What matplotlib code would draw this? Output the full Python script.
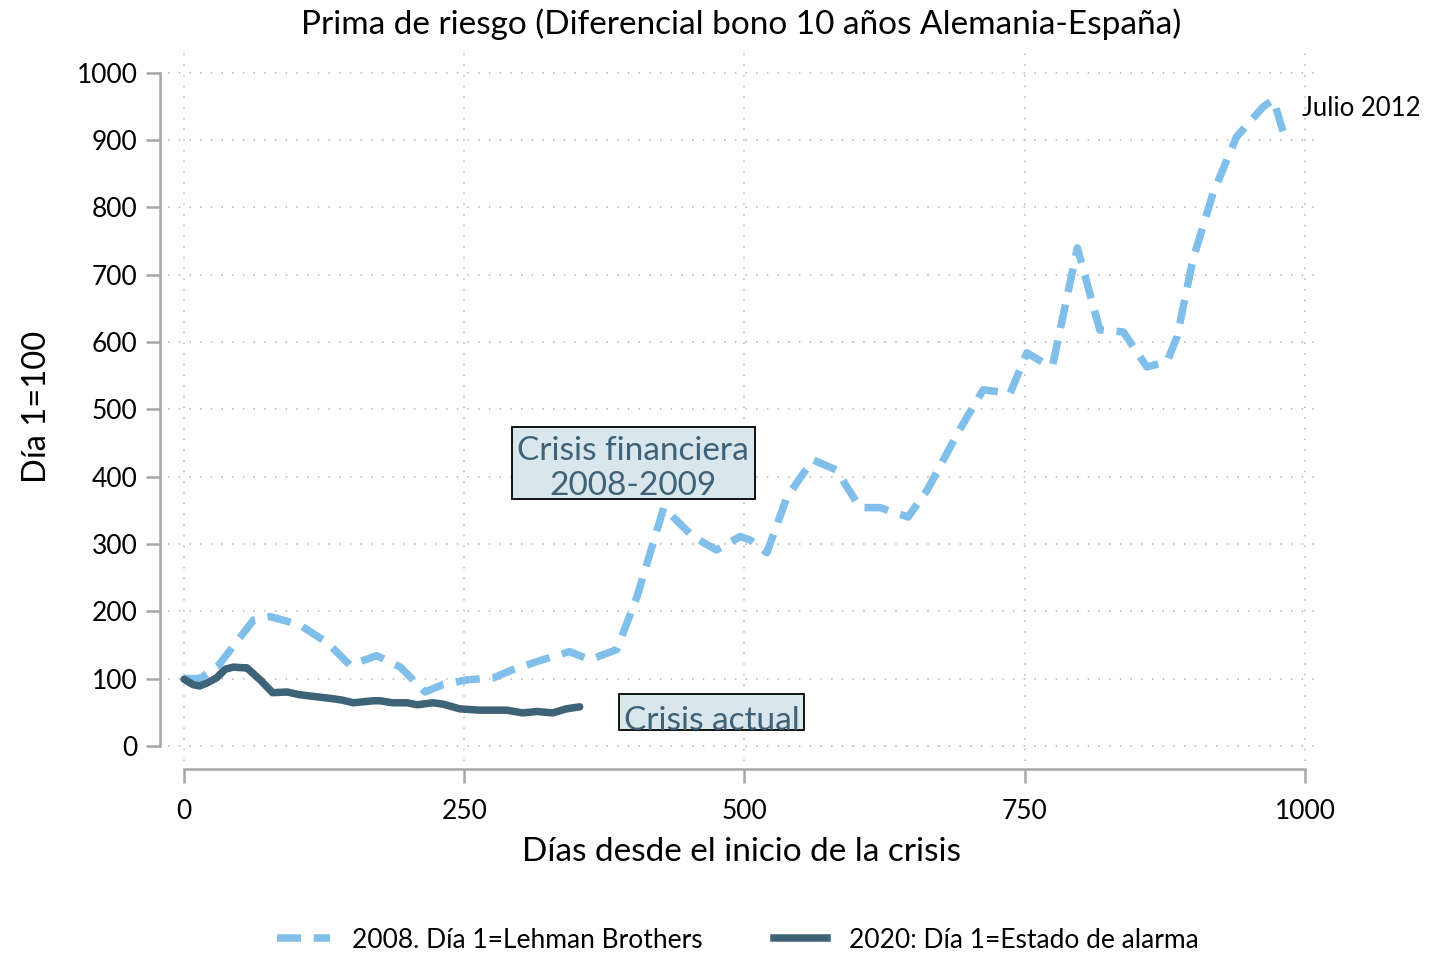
import matplotlib
matplotlib.use("Agg")
import matplotlib.pyplot as plt
from matplotlib.patches import Rectangle
from matplotlib.lines import Line2D

plt.rcParams['font.family'] = ['Lato', 'DejaVu Sans']

# 2008 series (Día 1 = Lehman Brothers)
x2008 = [0, 14, 30, 62, 77, 103, 128, 148, 172, 193, 215, 231, 252, 276, 293,
         320, 344, 362, 386, 404, 428, 454, 475, 496, 505, 520, 538, 561, 582,
         603, 621, 646, 663, 692, 713, 737, 752, 770, 775, 797, 817, 838, 859,
         877, 886, 900, 918, 939, 963, 972, 981]
y2008 = [100, 100, 118, 187, 192, 180, 153, 120, 134, 117, 80, 91, 98, 101, 113,
         128, 140, 128, 143, 221, 354, 311, 291, 311, 306, 287, 370, 425, 410,
         354, 354, 340, 380, 470, 529, 524, 584, 566, 566, 740, 618, 615, 563,
         571, 608, 722, 821, 905, 950, 960, 910]

# 2020 series (Día 1 = Estado de alarma)
x2020 = [0, 8, 14, 20, 29, 37, 44, 53, 56, 68, 79, 92, 103, 118, 133, 141, 151,
         169, 175, 186, 199, 208, 222, 231, 246, 264, 288, 302, 315, 329, 341, 353]
y2020 = [99, 91, 89, 93, 101, 114, 117, 116, 116, 98, 79, 80, 76, 73, 70, 68, 64,
         67, 67, 64, 64, 61, 64, 62, 55, 53, 53, 49, 51, 49, 55, 58]

x_ticks = [0, 250, 500, 750, 1000]
y_ticks = list(range(0, 1001, 100))

title = "Prima de riesgo (Diferencial bono 10 años Alemania-España)"
xlabel = "Días desde el inicio de la crisis"
ylabel = "Día 1=100"
label2008 = "2008. Día 1=Lehman Brothers"
label2020 = "2020: Día 1=Estado de alarma"

c_light = '#7fbfea'
c_dark = '#3e6278'
c_box = '#d9e6ec'
c_grid = '#b4b4b4'
c_spine = '#a6a6a6'

W, H = 1441, 955
fig = plt.figure(figsize=(W / 100, H / 100), dpi=100)
ax = fig.add_axes([168 / W, 1 - 761 / H, (1315 - 168) / W, (761 - 52) / H])

ax.set_xlim(-14.3, 1009)
ax.set_ylim(-22.5, 1031)

for t in y_ticks:
    ax.axhline(t, color=c_grid, lw=1.1, ls=(0, (1, 6)), zorder=0)
for t in x_ticks:
    ax.axvline(t, color=c_grid, lw=1.1, ls=(0, (1, 6)), zorder=0)

ax.plot(x2008, y2008, color=c_light, lw=5.4, ls=(0, (3.2, 1.7)),
        dash_capstyle='butt', zorder=3)
ax.plot(x2020, y2020, color=c_dark, lw=5.4, solid_capstyle='round',
        solid_joinstyle='round', zorder=4)

ax.text(997, 947, "Julio 2012", fontsize=18.5, ha='left', va='center', color='black')

# annotation boxes
def box(x0, x1, y0, y1, lines, ty):
    r = Rectangle((x0, y0), x1 - x0, y1 - y0, facecolor=c_box, edgecolor='black',
                  lw=1.3, zorder=5)
    ax.add_patch(r)
    t = ax.text((x0 + x1) / 2, ty, lines, fontsize=24, color=c_dark, ha='center',
                va='center', linespacing=1.22, zorder=6)
    t.set_clip_path(r)

box(292.5, 509, 367, 474, "Crisis financiera\n2008-2009", 412)
box(388, 553, 23, 77, "Crisis actual", 36.5)

for s in ['top', 'right']:
    ax.spines[s].set_visible(False)
ax.spines['left'].set_position(('outward', 5.8))
ax.spines['bottom'].set_position(('outward', 6.0))
ax.spines['left'].set_bounds(0, 1000)
ax.spines['bottom'].set_bounds(0, 1000)
for s in ['left', 'bottom']:
    ax.spines[s].set_color(c_spine)
    ax.spines[s].set_linewidth(1.8)

ax.set_xticks(x_ticks)
ax.set_yticks(y_ticks)
ax.tick_params(axis='both', length=10, width=1.8, color=c_spine, labelsize=19,
               pad=6)
ax.tick_params(axis='x', pad=11)

ax.set_title(title, fontsize=24, pad=13)
ax.set_xlabel(xlabel, fontsize=24, labelpad=10)
ax.set_ylabel(ylabel, fontsize=23.5, labelpad=18)

handles = [Line2D([], [], color=c_light, lw=5.4, ls=(0, (3.2, 1.7))),
           Line2D([], [], color=c_dark, lw=5.4)]
fig.legend(handles, [label2008, label2020], loc='center', bbox_to_anchor=(0.512, 1 - 940 / H),
           ncol=2, frameon=False, fontsize=19, handlelength=2.0, columnspacing=2.7,
           handletextpad=0.85)

fig.savefig("out.png", dpi=100, facecolor='white')
